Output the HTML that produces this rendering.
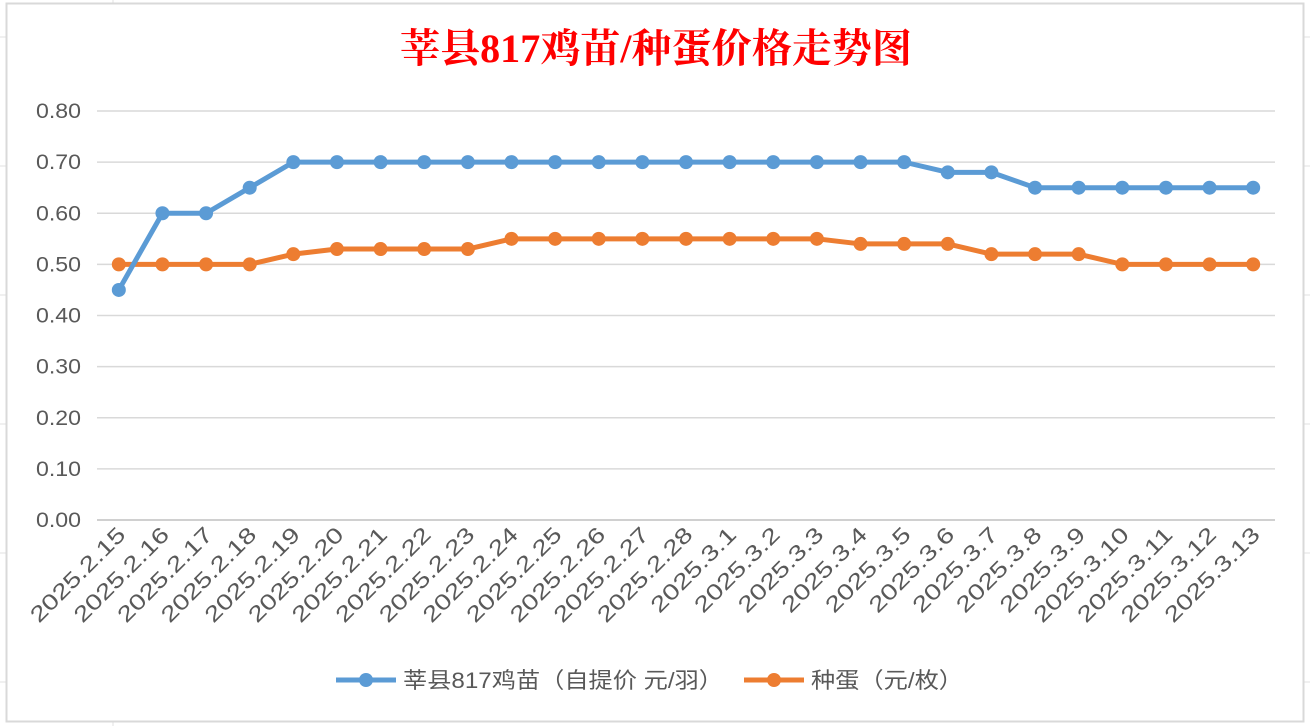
<!DOCTYPE html>
<html><head><meta charset="utf-8"><style>
body{margin:0;background:#fff;width:1310px;height:726px;overflow:hidden;font-family:"Liberation Sans","Noto Sans CJK SC",sans-serif}
svg{display:block}
</style></head><body>
<svg width="1310" height="726">
<g id="bggrid" stroke="#e1e1e1" stroke-width="1"></g>
<rect x="6.5" y="3.5" width="1297" height="718" fill="#fff" stroke="#d9d9d9" stroke-width="2"/>
<text x="400" y="62" font-size="40" font-weight="bold" fill="#ff0000" textLength="512" lengthAdjust="spacingAndGlyphs" font-family="'Liberation Serif','Noto Serif CJK SC',serif">莘县817鸡苗/种蛋价格走势图</text>
<g id="grid"></g><g id="ylab"></g><g id="xlab"></g><g id="series"></g>
<g>
<g><line x1="336" y1="680" x2="396" y2="680" stroke="#5b9bd5" stroke-width="5"/><circle cx="366" cy="680" r="7" fill="#5b9bd5"/>
<text x="403" y="688" font-size="22" fill="#595959" textLength="320" lengthAdjust="spacingAndGlyphs">莘县817鸡苗（自提价 元/羽）</text></g>
<g><line x1="744" y1="680" x2="804" y2="680" stroke="#ed7d31" stroke-width="5"/><circle cx="774" cy="680" r="7" fill="#ed7d31"/>
<text x="811" y="688" font-size="22" fill="#595959" textLength="152" lengthAdjust="spacingAndGlyphs">种蛋（元/枚）</text></g>
</g>
</svg>
<script>
const categories=["2025.2.15","2025.2.16","2025.2.17","2025.2.18","2025.2.19","2025.2.20","2025.2.21","2025.2.22","2025.2.23","2025.2.24","2025.2.25","2025.2.26","2025.2.27","2025.2.28","2025.3.1","2025.3.2","2025.3.3","2025.3.4","2025.3.5","2025.3.6","2025.3.7","2025.3.8","2025.3.9","2025.3.10","2025.3.11","2025.3.12","2025.3.13"];
const chickPrices=[0.45,0.60,0.60,0.65,0.70,0.70,0.70,0.70,0.70,0.70,0.70,0.70,0.70,0.70,0.70,0.70,0.70,0.70,0.70,0.68,0.68,0.65,0.65,0.65,0.65,0.65,0.65];
const eggPrices=[0.50,0.50,0.50,0.50,0.52,0.53,0.53,0.53,0.53,0.55,0.55,0.55,0.55,0.55,0.55,0.55,0.55,0.54,0.54,0.54,0.52,0.52,0.52,0.50,0.50,0.50,0.50];
const yTicks=["0.00","0.10","0.20","0.30","0.40","0.50","0.60","0.70","0.80"];
const NS="http://www.w3.org/2000/svg";
const X0=97,X1=1275,Y0=520,Y1=111,YMAX=0.8;
const step=(X1-X0)/categories.length;
const xs=i=>X0+step*(i+0.5);
const ys=v=>Y0-(v/YMAX)*(Y0-Y1);
function mk(t,a,p){const e=document.createElementNS(NS,t);for(const k in a)e.setAttribute(k,a[k]);p.appendChild(e);return e;}
const bg=document.getElementById('bggrid');
for(let y=37;y<726;y+=129){mk('line',{x1:0,x2:1310,y1:y,y2:y},bg);}
mk('line',{x1:113,x2:113,y1:0,y2:726},bg);
const g=document.getElementById('grid'),yl=document.getElementById('ylab'),xl=document.getElementById('xlab');
yTicks.forEach(t=>{const y=ys(parseFloat(t));
const l=mk('line',{x1:X0,x2:X1,y1:y,y2:y,stroke:t==="0.00"?"#d0d0d0":"#d9d9d9","stroke-width":t==="0.00"?2:1.5},g);


const tx=mk('text',{x:81,y:y+7,'text-anchor':'end','font-size':21,fill:'#595959',textLength:45,lengthAdjust:'spacingAndGlyphs'},yl);tx.textContent=t;


});
categories.forEach((c,i)=>{const x=xs(i)+8,y=536;
const len=c.length*13.8;
const tx=mk('text',{x:x,y:y,'text-anchor':'end','font-size':22,fill:'#595959',textLength:len,lengthAdjust:'spacingAndGlyphs',transform:`rotate(-45 ${x} ${y})`},xl);tx.textContent=c;


});
const sg=document.getElementById('series');
[[eggPrices,'#ed7d31','egg'],[chickPrices,'#5b9bd5','chick']].forEach(([d,col,n])=>{
const pl=mk('polyline',{points:d.map((v,i)=>xs(i)+','+ys(v)).join(' '),fill:'none',stroke:col,'stroke-width':5,'stroke-linejoin':'round'},sg);


d.forEach((v,i)=>{const c=mk('circle',{cx:xs(i),cy:ys(v),r:7,fill:col},sg);

});
});
</script>
</body></html>
